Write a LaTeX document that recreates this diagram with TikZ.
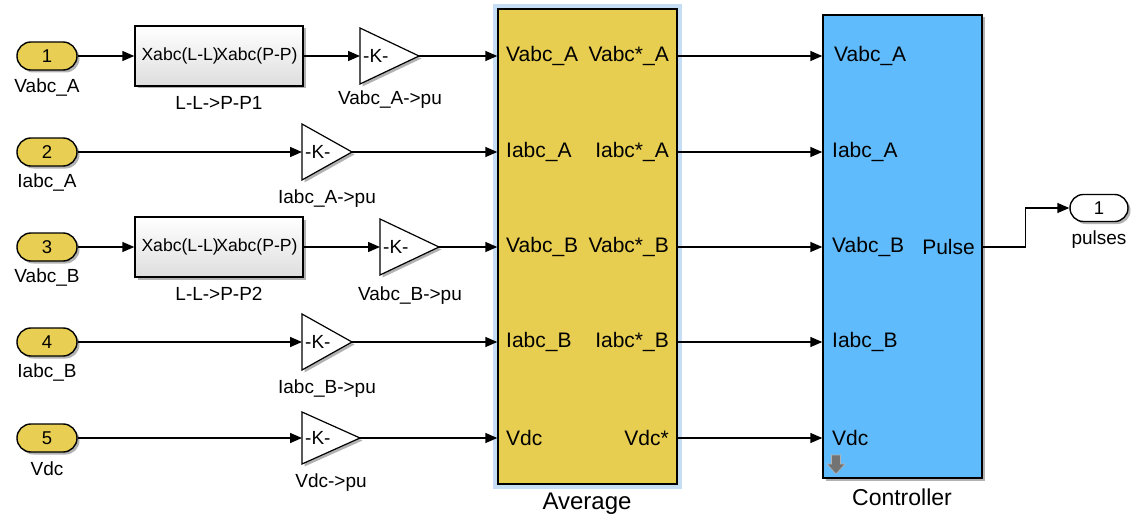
\documentclass[tikz,border=0pt]{standalone}
\usepackage{fontspec}
\setmainfont{Liberation Sans}
\usetikzlibrary{arrows.meta,shadows}
\definecolor{inyel}{HTML}{E8CE52}
\definecolor{avgyel}{HTML}{E8CE50}
\definecolor{ctrlblue}{HTML}{5FBBFC}
\definecolor{hilite}{HTML}{C6DDF6}
\newcommand{\fs}[1]{\fontsize{#1}{#1}\selectfont}
\begin{document}
\begin{tikzpicture}[x=1pt,y=-1pt,
  shd/.style={drop shadow={shadow xshift=2.5pt,shadow yshift=-2.5pt,opacity=0.3,fill=black}},
  sig/.style={line width=1.4pt,-{Triangle[length=12pt,width=10pt]}},
  inport/.style={draw,line width=1.4pt,fill=inyel,rounded corners=13.9pt,minimum width=60pt,minimum height=28pt,inner sep=0pt,font=\fs{18.5},shd},
  outport/.style={draw,line width=1.4pt,fill=white,rounded corners=13.4pt,minimum width=58pt,minimum height=27pt,inner sep=0pt,font=\fs{18.5},shd},
  conv/.style={draw,line width=1.4pt,top color=white,bottom color=black!13,minimum width=168pt,minimum height=60pt,inner sep=0pt,shd},
  gainbox/.style={minimum height=56pt,inner sep=0pt,outer sep=0pt},
  gaintri/.style={draw,line width=1.2pt,fill=white,shd},
  lbl/.style={font=\fs{19},inner sep=0pt},
  plbl/.style={font=\fs{21},inner sep=0pt},
  ktext/.style={font=\fs{19},inner sep=0pt,anchor=west},
  xtext/.style={font=\fs{17.6},inner sep=0pt}
]
\useasboundingbox (0,0) rectangle (1133,519);

% Inports
\node[inport] (in1) at (47,56) {1};
\node[inport] (in2) at (47,152) {2};
\node[inport] (in3) at (47,247) {3};
\node[inport] (in4) at (47,342) {4};
\node[inport] (in5) at (47,438) {5};
\node[lbl] (lin1) at (47,88) {Vabc\_A};
\node[lbl] (lin2) at (47,183) {Iabc\_A};
\node[lbl] (lin3) at (47,278) {Vabc\_B};
\node[lbl] (lin4) at (47,373) {Iabc\_B};
\node[lbl] (lin5) at (47,469) {Vdc};

% Converters
\node[conv] (cv1) at (219,56) {};
\node[xtext,anchor=west] (cv1a) at ([xshift=7pt]cv1.west) {Xabc(L-L)};
\node[xtext,anchor=east] (cv1b) at ([xshift=-6pt]cv1.east) {Xabc(P-P)};
\node[lbl] (lcv1) at (219,103) {L-L->P-P1};
\node[conv] (cv2) at (219,247) {};
\node[xtext,anchor=west] (cv2a) at ([xshift=7pt]cv2.west) {Xabc(L-L)};
\node[xtext,anchor=east] (cv2b) at ([xshift=-6pt]cv2.east) {Xabc(P-P)};
\node[lbl] (lcv2) at (219,294) {L-L->P-P2};

% Gains
\node[gainbox,minimum width=59pt] (g1) at (389.5,56) {};
\node[gainbox,minimum width=50pt] (g2) at (327,152) {};
\node[gainbox,minimum width=59pt] (g3) at (409.5,247) {};
\node[gainbox,minimum width=50pt] (g4) at (327,342) {};
\node[gainbox,minimum width=58pt,minimum height=52pt] (g5) at (331,438) {};
\foreach \g in {g1,g2,g3,g4,g5}{
  \path[gaintri] (\g.north west) -- (\g.east) -- (\g.south west) -- cycle;
  \node[ktext] at ([xshift=3pt]\g.west) {-K-};
}
\node[lbl] (lg1) at (390,100) {Vabc\_A->pu};
\node[lbl] (lg2) at (327,199) {Iabc\_A->pu};
\node[lbl] (lg3) at (410,296) {Vabc\_B->pu};
\node[lbl] (lg4) at (327,389) {Iabc\_B->pu};
\node[lbl] (lg5) at (331,483) {Vdc->pu};

% Average block
\fill[hilite] (493,4) rectangle (682,489);
\node[draw,line width=1.4pt,fill=avgyel,minimum width=179pt,minimum height=475pt,inner sep=0pt] (avg) at (587.5,246.5) {};
\node[font=\fs{24},inner sep=0pt] (lavg) at (587,504) {Average};
\node[plbl,anchor=west] at (506,56) {Vabc\_A};
\node[plbl,anchor=west] at (506,152) {Iabc\_A};
\node[plbl,anchor=west] at (506,247) {Vabc\_B};
\node[plbl,anchor=west] at (506,342) {Iabc\_B};
\node[plbl,anchor=west] at (506,438) {Vdc};
\node[plbl,anchor=east] at (669,56) {Vabc*\_A};
\node[plbl,anchor=east] at (669,152) {Iabc*\_A};
\node[plbl,anchor=east] at (669,247) {Vabc*\_B};
\node[plbl,anchor=east] at (669,342) {Iabc*\_B};
\node[plbl,anchor=east] at (669,438) {Vdc*};

% Controller block
\node[draw,line width=1.4pt,fill=ctrlblue,minimum width=159pt,minimum height=463pt,inner sep=0pt,shd] (ctrl) at (902.5,246.5) {};
\node[font=\fs{23},inner sep=0pt] (lctrl) at (902,497) {Controller};
\node[plbl,anchor=west] at (834,56) {Vabc\_A};
\node[plbl,anchor=west] at (832,152) {Iabc\_A};
\node[plbl,anchor=west] at (832,247) {Vabc\_B};
\node[plbl,anchor=west] at (832,342) {Iabc\_B};
\node[plbl,anchor=west] at (832,438) {Vdc};
\node[plbl,anchor=east] at (975,247) {Pulse};
\fill[black!55,draw=black!30,line width=0.6pt] (831.5,455) -- (840.5,455) -- (840.5,464) -- (845,464) -- (836,474) -- (827,464) -- (831.5,464) -- cycle;

% Outport
\node[outport] (out1) at (1099,208) {1};
\node[lbl] (lout1) at (1099,240) {pulses};

% Connectors
\draw[sig] (in1.east) -- (cv1.west);
\draw[sig] (cv1.east) -- (g1.west);
\draw[sig] (g1.east) -- (g1.east -| avg.west);
\draw[sig] (in2.east) -- (g2.west);
\draw[sig] (g2.east) -- (g2.east -| avg.west);
\draw[sig] (in3.east) -- (cv2.west);
\draw[sig] (cv2.east) -- (g3.west);
\draw[sig] (g3.east) -- (g3.east -| avg.west);
\draw[sig] (in4.east) -- (g4.west);
\draw[sig] (g4.east) -- (g4.east -| avg.west);
\draw[sig] (in5.east) -- (g5.west);
\draw[sig] (g5.east) -- (g5.east -| avg.west);
\foreach \g in {g1,g2,g3,g4,g5}{
  \draw[sig] (\g.east -| avg.east) -- (\g.east -| ctrl.west);
}
\draw[sig] (g3.east -| ctrl.east) -- ++(43,0) |- (out1.west);
\end{tikzpicture}
\end{document}
